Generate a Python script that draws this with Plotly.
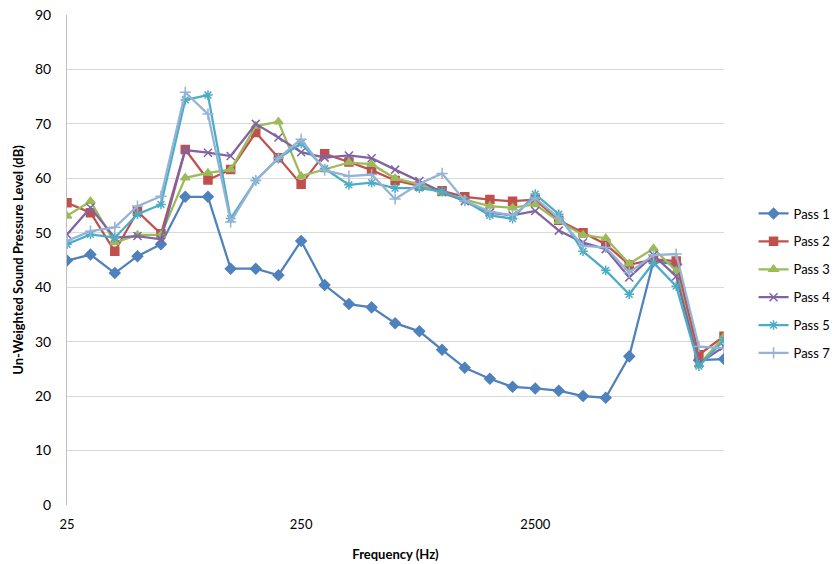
import plotly.graph_objects as go

# One-third octave band centre frequencies (Hz)
freq = [25, 31.5, 40, 50, 63, 80, 100, 125, 160, 200, 250, 315, 400, 500, 630,
        800, 1000, 1250, 1600, 2000, 2500, 3150, 4000, 5000, 6300, 8000, 10000,
        12500, 16000]

# Un-weighted sound pressure level per pass (dB)
pass_1 = [44.9, 46.0, 42.6, 45.7, 47.9, 56.6, 56.6, 43.4, 43.4, 42.2, 48.5, 40.4,
          36.9, 36.3, 33.4, 31.9, 28.5, 25.2, 23.2, 21.7, 21.4, 21.0, 20.0, 19.7,
          27.3, 44.8, 44.2, 26.6, 26.8]
pass_2 = [55.5, 53.7, 46.6, 53.9, 49.8, 65.3, 59.7, 61.6, 68.4, 63.8, 58.9, 64.5,
          63.0, 61.5, 59.6, 58.6, 57.7, 56.6, 56.1, 55.8, 56.1, 52.3, 50.0, 47.9,
          44.1, 45.1, 44.8, 27.6, 31.0]
pass_3 = [53.1, 55.8, 48.2, 49.6, 49.6, 60.1, 61.0, 61.6, 69.6, 70.4, 60.4, 61.6,
          62.9, 62.6, 60.0, 58.9, 57.2, 56.1, 54.9, 54.6, 55.2, 52.1, 49.6, 49.0,
          44.3, 47.1, 43.0, 25.8, 30.9]
pass_4 = [49.7, 54.6, 49.1, 49.4, 48.8, 65.2, 64.7, 64.1, 70.0, 67.5, 64.8, 63.8,
          64.2, 63.7, 61.6, 59.5, 57.5, 55.8, 53.7, 53.2, 54.0, 50.4, 48.2, 47.0,
          41.8, 45.9, 42.0, 26.0, 29.1]
pass_5 = [47.9, 49.7, 49.1, 53.4, 55.2, 74.4, 75.3, 52.6, 59.6, 63.7, 66.4, 61.8,
          58.8, 59.2, 58.2, 58.2, 57.6, 55.9, 53.2, 52.6, 57.1, 53.4, 46.6, 43.1,
          38.7, 44.5, 40.2, 25.5, 30.3]
pass_7 = [48.5, 50.3, 51.0, 54.9, 56.7, 75.8, 71.8, 52.0, 59.6, 63.7, 67.2, 61.5,
          60.4, 60.7, 56.2, 59.0, 60.9, 55.9, 53.9, 53.2, 56.4, 52.7, 47.6, 47.3,
          42.7, 45.9, 46.1, 29.1, 28.8]

series = [
    ("Pass 1", pass_1, "#4F81BD", "diamond"),
    ("Pass 2", pass_2, "#C0504D", "square"),
    ("Pass 3", pass_3, "#9BBB59", "triangle-up"),
    ("Pass 4", pass_4, "#8064A2", "x-thin-open"),
    ("Pass 5", pass_5, "#4BACC6", "asterisk-open"),
    ("Pass 7", pass_7, "#95B3D7", "cross-thin-open"),
]

x_ticks = [25, 250, 2500]
y_ticks = list(range(0, 91, 10))

fig = go.Figure()
for name, vals, color, symbol in series:
    fig.add_trace(go.Scatter(
        x=freq, y=vals, name=name, mode="lines+markers",
        legendgroup=name,
        line=dict(color=color, width=2.25),
        marker=dict(symbol=symbol, size=8, color=color,
                    line=dict(color=color, width=1.5)),
    ))

font_family = "Lato, 'Open Sans', sans-serif"

fig.update_layout(
    width=835, height=564,
    margin=dict(l=67, r=111, t=15, b=59, autoexpand=False),
    paper_bgcolor="white", plot_bgcolor="white",
    font=dict(family=font_family, color="#404040"),
    showlegend=True,
    legend=dict(x=1.045, xanchor="left", y=0.452, yanchor="middle",
                font=dict(size=13, color="#000000"),
                tracegroupgap=8, itemwidth=30,
                bgcolor="rgba(0,0,0,0)"),
    xaxis=dict(
        type="log",
        range=[1.39794, 4.20412],
        tickvals=x_ticks, ticktext=[str(v) for v in x_ticks],
        showgrid=False, zeroline=False,
        showline=False, ticks="",
        ticklabelstandoff=10,
        tickfont=dict(size=13, color="#000000"),
        title=dict(text="<b>Frequency (Hz)</b>", font=dict(size=13, color="#000000"),
                   standoff=18),
    ),
    yaxis=dict(
        range=[0, 90], tickvals=y_ticks,
        showgrid=True, gridcolor="#D9D9D9", gridwidth=1,
        zeroline=False, showline=True, linecolor="#BFBFBF", linewidth=1,
        ticks="", ticklen=0,
        ticklabelstandoff=12,
        tickfont=dict(size=14, color="#000000"),
        title=dict(text="<b>Un-Weighted Sound Pressure Level (dB)</b>",
                   font=dict(size=13, color="#000000"), standoff=8),
    ),
)

fig.write_html("out.html")
